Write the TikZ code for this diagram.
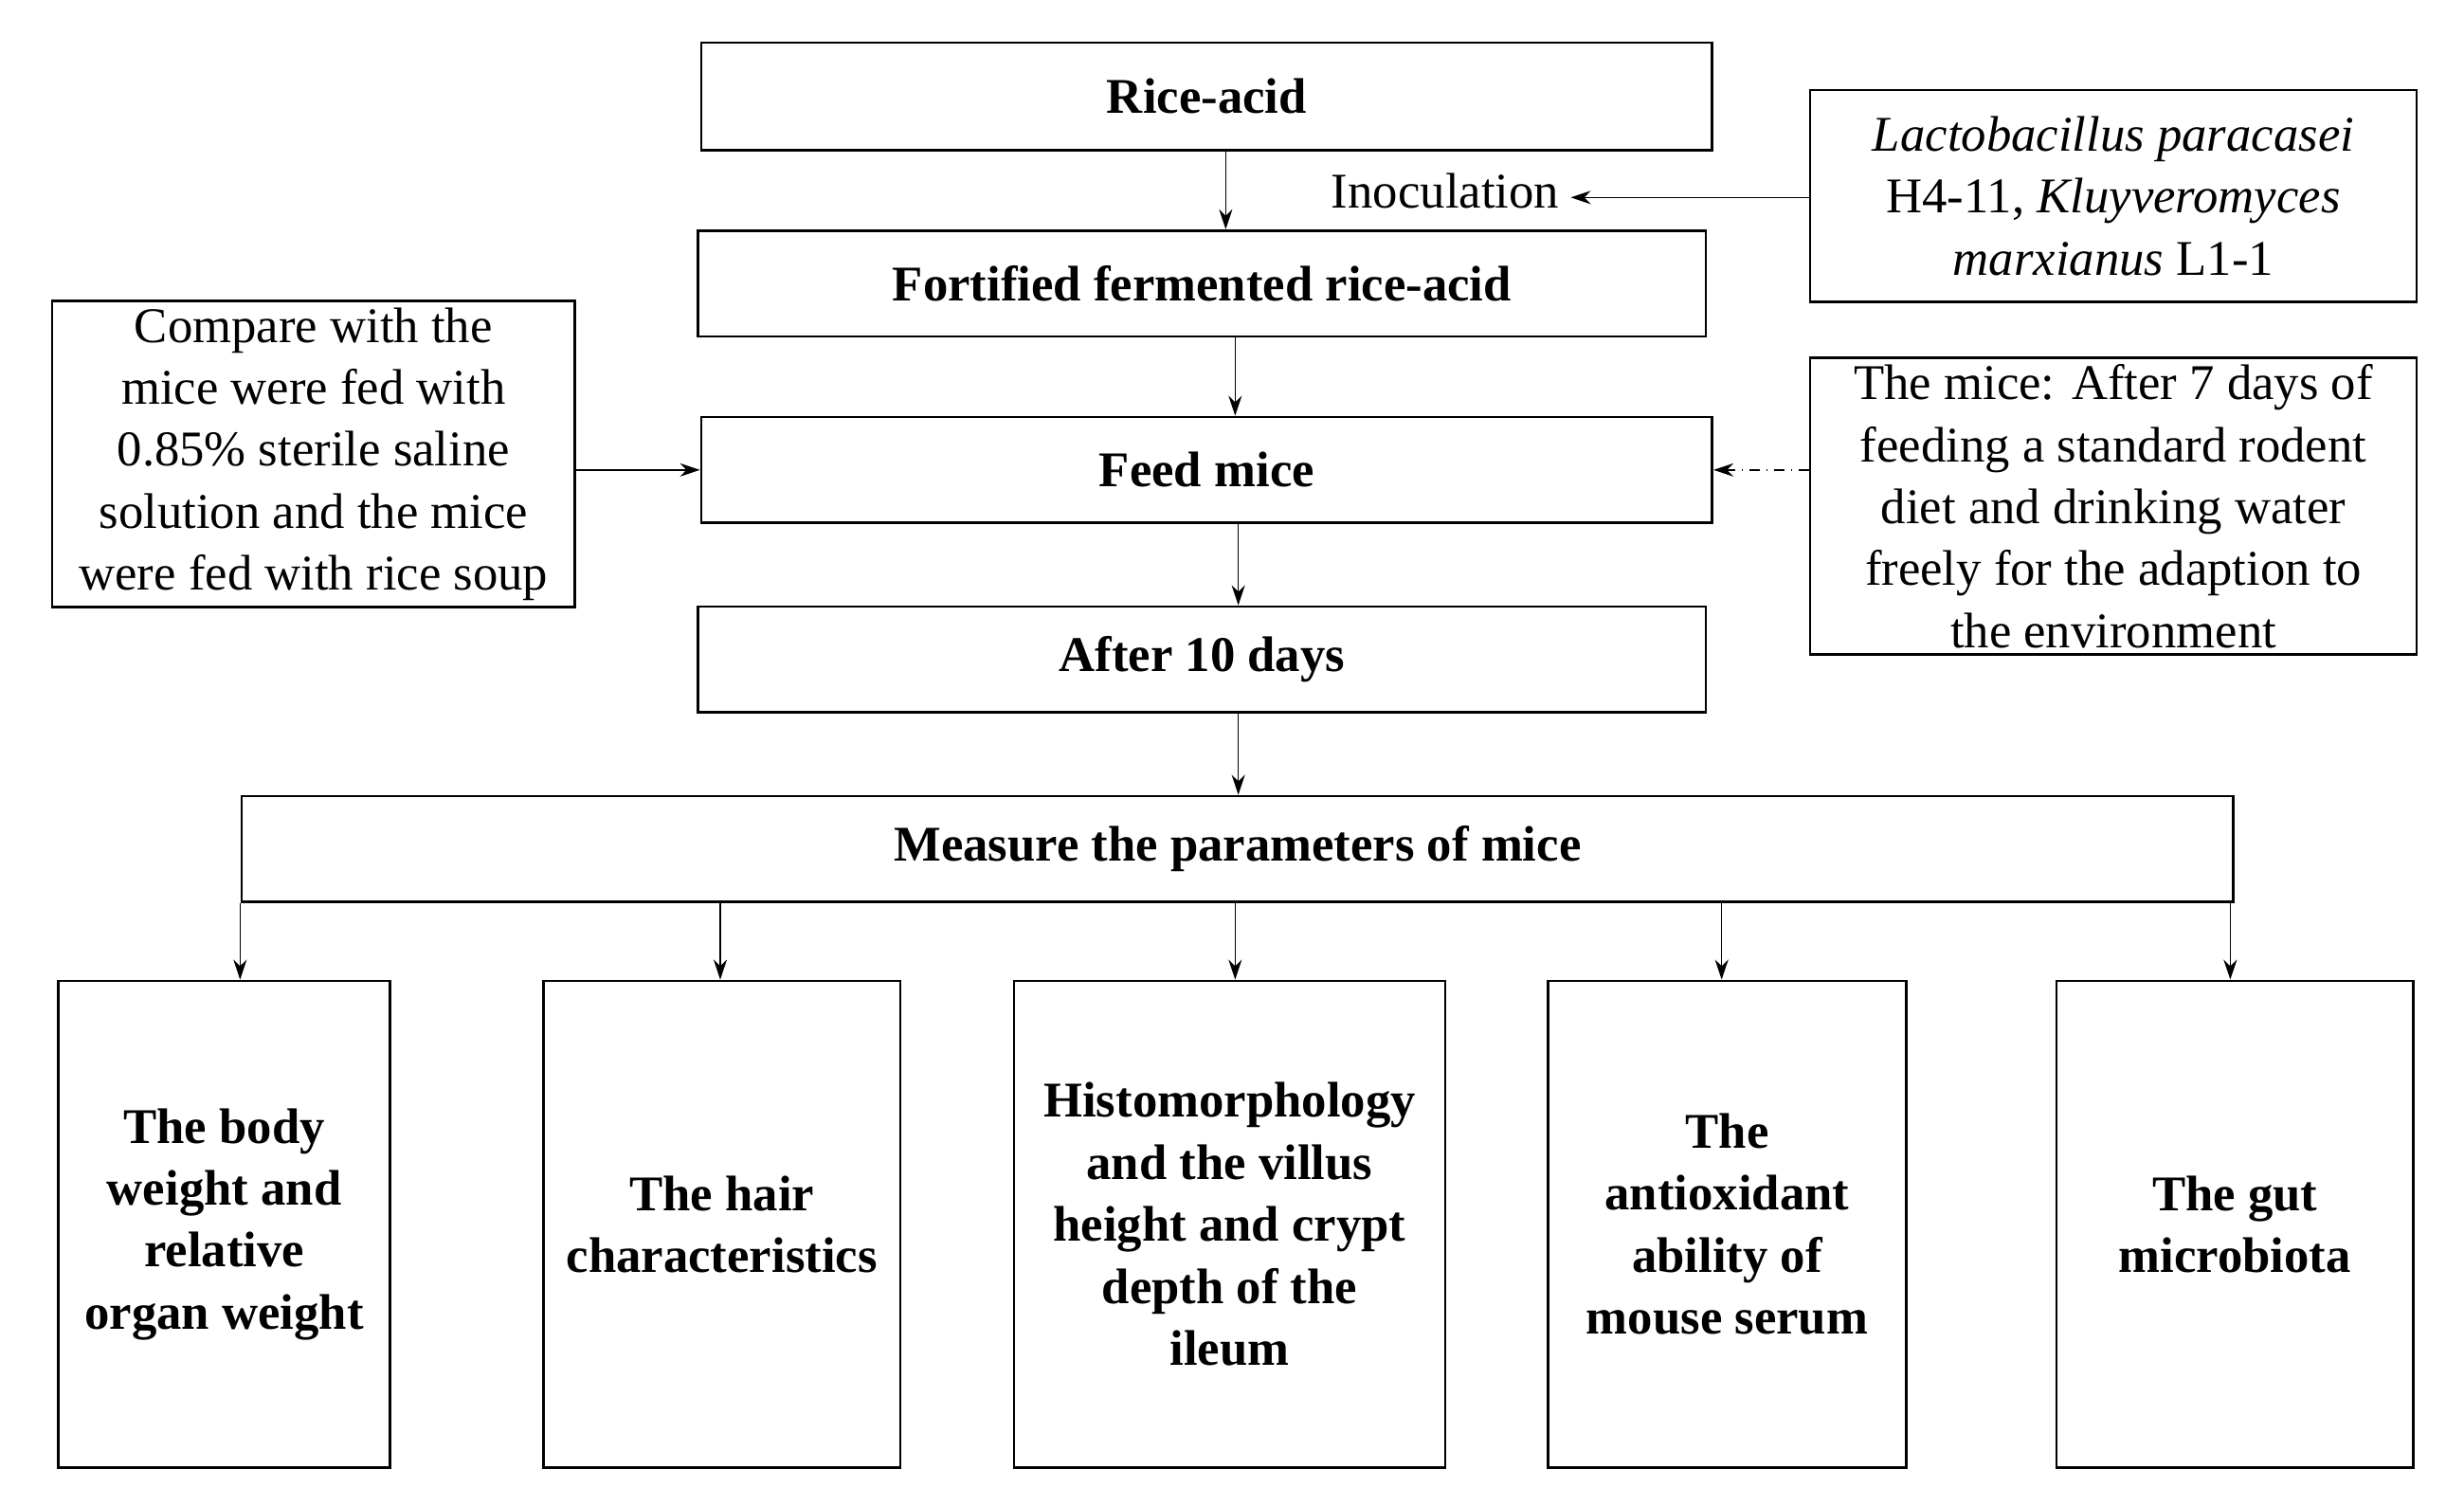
\documentclass[tikz,border=0pt]{standalone}
\usepackage{fontspec}
\setmainfont{Liberation Serif}
\usetikzlibrary{positioning,arrows.meta}
\tikzstyle{box}=[draw,thick,inner sep=2pt,align=center,font=\fontsize{15}{18.6}\selectfont]
\tikzstyle{stepbox}=[box,font=\fontsize{15}{18.6}\selectfont\bfseries]
\tikzstyle{arr}=[-{Stealth[length=6pt,width=4pt]},thin]
\begin{document}
\begin{tikzpicture}[x=1cm/60,y=-1cm/60]
    \useasboundingbox (0,0) rectangle (1560,953);

    % main chain
    \node[stepbox,minimum width=640/60*1cm,minimum height=68/60*1cm] (rice) at (764,61) {Rice-acid};
    \node[stepbox,minimum width=638/60*1cm,minimum height=67/60*1cm] (fort) at (761,179.5) {Fortified fermented rice-acid};
    \node[stepbox,minimum width=640/60*1cm,minimum height=67/60*1cm] (feed) at (764,297.5) {Feed mice};
    \node[stepbox,minimum width=638/60*1cm,minimum height=67/60*1cm] (after) at (761,417.5) {After 10 days};
    \node[stepbox,minimum width=1261/60*1cm,minimum height=67/60*1cm] (meas) at (783.5,537.5) {Measure the parameters of mice};

    % side boxes
    \node[box,minimum width=384/60*1cm,minimum height=134/60*1cm] (lacto) at (1338,124)
      {\textit{Lactobacillus paracasei}\\ H4-11, \textit{Kluyveromyces}\\ \textit{marxianus} L1-1};
    \node[box,minimum width=331/60*1cm,minimum height=185/60*1cm] (comp) at (198.5,287.5)
      {Compare with the\\ mice were fed with\\ 0.85\% sterile saline\\ solution and the mice\\ were fed with rice soup};
    \node[box,minimum width=384/60*1cm,minimum height=185/60*1cm] (adapt) at (1338,320.5)
      {The mice: After 7 days of\\ feeding a standard rodent\\ diet and drinking water\\ freely for the adaption to\\ the environment};
    \node[font=\fontsize{15}{18.6}\selectfont] (inoc) at (915,121) {Inoculation};

    % results
    \node[stepbox,minimum width=210/60*1cm,minimum height=308/60*1cm] (r1) at (142,775) {The body\\ weight and\\ relative\\ organ weight};
    \node[stepbox,minimum width=226/60*1cm,minimum height=308/60*1cm] (r2) at (457,775) {The hair\\ characteristics};
    \node[stepbox,minimum width=273/60*1cm,minimum height=308/60*1cm] (r3) at (778.5,775) {Histomorphology\\ and the villus\\ height and crypt\\ depth of the\\ ileum};
    \node[stepbox,minimum width=227/60*1cm,minimum height=308/60*1cm] (r4) at (1093.5,775) {The\\ antioxidant\\ ability of\\ mouse serum};
    \node[stepbox,minimum width=226/60*1cm,minimum height=308/60*1cm] (r5) at (1415,775) {The gut\\ microbiota};

    % ARROWS
    \draw[arr] (rice.south -| 776,0) -- (fort.north -| 776,0);
    \draw[arr] (fort.south -| 782,0) -- (feed.north -| 782,0);
    \draw[arr] (feed.south -| 784,0) -- (after.north -| 784,0);
    \draw[arr] (after.south -| 784,0) -- (meas.north -| 784,0);
    \draw[arr] (lacto.west |- 0,125) -- (inoc.east |- 0,125);
    \draw[arr] (comp.east |- feed) -- (feed.west);
    \draw[arr,dash dot] (adapt.west |- feed) -- (feed.east);
    \foreach \r/\x in {r1/152,r2/456,r3/782,r4/1090,r5/1412}
      \draw[arr] (meas.south -| \x,0) -- (\r.north -| \x,0);
\end{tikzpicture}
\end{document}
